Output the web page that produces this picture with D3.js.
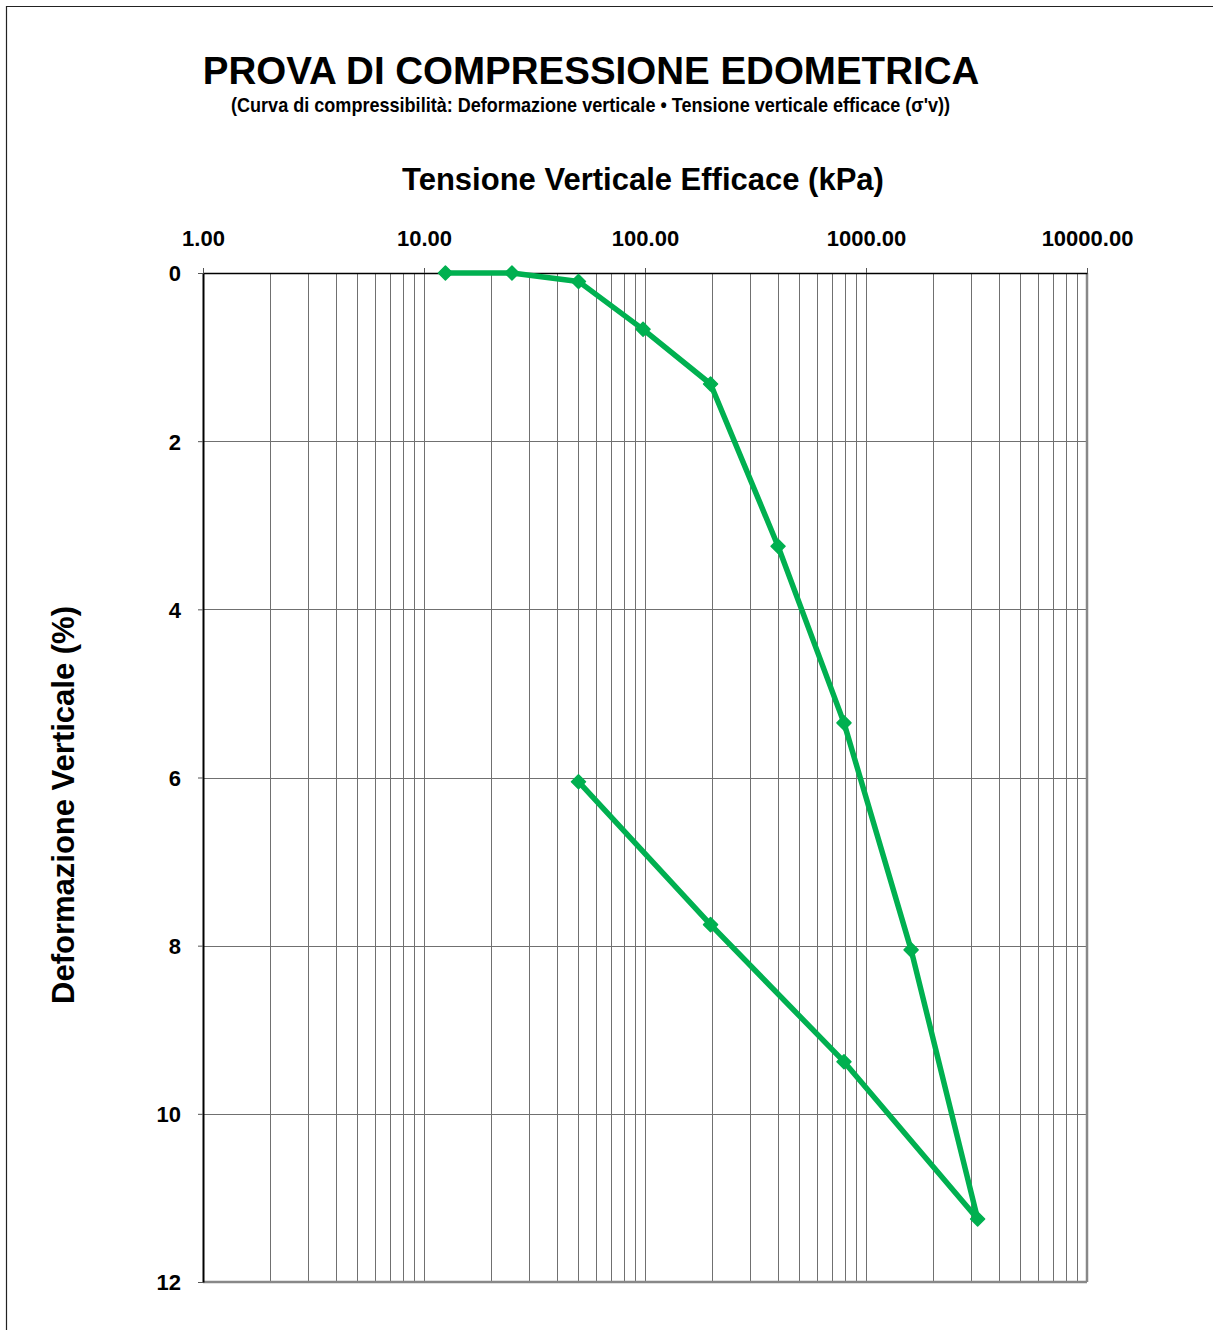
<!DOCTYPE html>
<html><head><meta charset="utf-8">
<script src="https://cdn.jsdelivr.net/npm/d3@7"></script>
<style>body{margin:0;background:#fff;font-family:"Liberation Sans",Arial,sans-serif}</style>
</head><body>
<svg id="c" width="1213" height="1330"></svg>
<script>
const stress = [12.5, 25, 50, 98, 198, 400, 795, 1600, 3200, 795, 198, 50];
const strain = [0, 0, 0.1, 0.67, 1.32, 3.25, 5.35, 8.05, 11.25, 9.38, 7.75, 6.05];
const xTicks = [1, 10, 100, 1000, 10000];
const xTickLabels = ["1.00", "10.00", "100.00", "1000.00", "10000.00"];
const yTicks = [0, 2, 4, 6, 8, 10, 12];

const svg = d3.select("#c");
const L = 203, T = 273, R = 1087, B = 1282;
const x = d3.scaleLog().domain([1, 10000]).range([L, R]);
const y = d3.scaleLinear().domain([0, 12]).range([T, B]);
const FF = "Liberation Sans, Arial, sans-serif";

// frame
svg.append("path").attr("d", `M6.5,1330 V6.5 H1213`).attr("fill","none").attr("stroke","#222").attr("stroke-width",1.2);

// minor vertical grid
const minor = [];
for (let d = 1; d < 10000; d *= 10) for (let k = 2; k <= 10; k++) minor.push(d * k);
svg.append("g").selectAll("line").data(minor).join("line")
  .attr("x1", d => Math.round(x(d)) + 0.5).attr("x2", d => Math.round(x(d)) + 0.5)
  .attr("y1", T).attr("y2", B).attr("stroke", "#707070").attr("stroke-width", 1);
// horizontal grid
svg.append("g").selectAll("line").data(yTicks.slice(1, -1)).join("line")
  .attr("x1", L).attr("x2", R).attr("y1", d => Math.round(y(d)) + 0.5).attr("y2", d => Math.round(y(d)) + 0.5)
  .attr("stroke", "#707070").attr("stroke-width", 1);

// borders
svg.append("line").attr("x1", L).attr("x2", R).attr("y1", B).attr("y2", B).attr("stroke", "#888").attr("stroke-width", 2.5);
svg.append("line").attr("x1", R).attr("x2", R).attr("y1", T).attr("y2", B).attr("stroke", "#888").attr("stroke-width", 2.5);

// top axis
const xAxis = d3.axisTop(x).tickValues(xTicks).tickFormat((d, i) => xTickLabels[i]).tickSize(5).tickSizeOuter(0);
const gx = svg.append("g").attr("transform", `translate(0,${T})`).call(xAxis);
gx.select(".domain").attr("stroke", "#000").attr("stroke-width", 1.5);
gx.selectAll(".tick line").attr("stroke", "#555");
gx.selectAll("text").attr("font-family", FF).attr("font-weight", "bold")
  .attr("font-size", 22).attr("fill", "#000").attr("dy", null).attr("y", -27);

// left axis
const yAxis = d3.axisLeft(y).tickValues(yTicks).tickSize(5).tickSizeOuter(0);
const gy = svg.append("g").attr("transform", `translate(${L},0)`).call(yAxis);
gy.select(".domain").attr("stroke", "#000").attr("stroke-width", 2);
gy.selectAll(".tick line").attr("stroke", "#555");
gy.selectAll("text").attr("font-family", FF).attr("font-weight", "bold")
  .attr("font-size", 22).attr("fill", "#000").attr("x", -22).attr("dy", "0.36em");

// line
const pts = stress.map((s, i) => [s, strain[i]]);
svg.append("path").datum(pts)
  .attr("d", d3.line().x(d => x(d[0])).y(d => y(d[1])))
  .attr("fill", "none").attr("stroke", "#00B050").attr("stroke-width", 5.5).attr("stroke-linejoin", "round");
svg.append("g").selectAll("path").data(pts).join("path")
  .attr("transform", d => `translate(${x(d[0])},${y(d[1])})`)
  .attr("d", "M0,-7 L7,0 L0,7 L-7,0 Z").attr("fill", "#00B050")
  .attr("stroke", "#00B050").attr("stroke-width", 1.5).attr("stroke-linejoin", "round");

// titles
svg.append("text").attr("x", 591).attr("y", 84).attr("text-anchor", "middle")
  .attr("font-weight", "bold").attr("font-size", 38.5).attr("font-family", FF)
  .text("PROVA DI COMPRESSIONE EDOMETRICA");
svg.append("text").attr("x", 231).attr("y", 112)
  .attr("font-weight", "bold").attr("font-size", 21).attr("font-family", FF)
  .attr("textLength", 719).attr("lengthAdjust", "spacingAndGlyphs")
  .text("(Curva di compressibilità: Deformazione verticale • Tensione verticale efficace (σ'v))");
svg.append("text").attr("x", 643).attr("y", 190).attr("text-anchor", "middle")
  .attr("font-weight", "bold").attr("font-size", 31).attr("font-family", FF)
  .text("Tensione Verticale Efficace (kPa)");
svg.append("text").attr("transform", "translate(74,805) rotate(-90)").attr("text-anchor", "middle")
  .attr("font-weight", "bold").attr("font-size", 31).attr("font-family", FF)
  .text("Deformazione Verticale (%)");
</script>
</body></html>
